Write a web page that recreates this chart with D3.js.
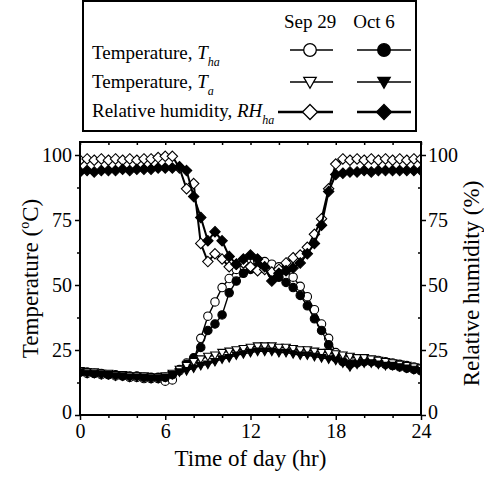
<!DOCTYPE html>
<html><head><meta charset="utf-8">
<script src="https://cdn.jsdelivr.net/npm/d3@7"></script>
<style>body{margin:0;background:#fff} svg{display:block}</style>
</head><body>
<script>
// Half-hourly readings over one day
const hours = [0,0.5,1,1.5,2,2.5,3,3.5,4,4.5,5,5.5,6,6.5,7,7.5,8,8.5,9,9.5,10,10.5,11,11.5,12,
  12.5,13,13.5,14,14.5,15,15.5,16,16.5,17,17.5,18,18.5,19,19.5,20,20.5,21,21.5,22,22.5,23,23.5,24];

// Temperature T_ha (°C)
const thaSep29 = [16.5,16,16,15.5,15.5,15,15,14.5,14.5,14,14,14,13,13.5,17,20,21,29.5,38,43.5,49,52.5,56,58.5,59.5,
  59.5,59,58,57,55.5,53,49.5,45.5,40.5,35,29.5,24,22.5,22,21.5,21.5,21,21,20.5,20,19.5,19,18.5,18];
const thaOct6 = [16.5,16.5,16,16,15.5,15.5,15,15,15,14.5,14.5,14.5,14.5,15.5,17.5,19.5,22,26,32.5,35,38.5,47,51.5,54.5,56,
  57,56.5,54.5,53,51,49,46,42,37,32.5,27,22,20.5,19.5,20,20.5,20.5,20,19.5,19,18.5,18,17.5,17];

// Temperature T_a (°C)
const taSep29 = [17,16.5,16.5,16,16,15.5,15.5,15,15,15,14.5,14.5,15,16,17.5,19,20.5,21.5,22.5,23,24,24.5,25,25.5,26,
  26.5,26.5,26.5,26,26,25.5,25,25,24.5,24,24,23.5,23,22.5,22,22,21.5,21,20.5,20,19.5,19,18.5,18];
const taOct6 = [16.5,16,16,15.5,15.5,15,15,14.5,14.5,14.5,14,14,14.5,15.5,16.5,17,18,19,19.5,20.5,21.5,22,23,23.5,24,
  24.5,24.5,24.5,24,24,23.5,23,23,22.5,22,21.5,21,20,18.5,19.5,20,20,19.5,19,19,18.5,18,17.5,17];

// Relative humidity RH_ha (%)
const rhSep29 = [98,98.5,98,98.5,98,98.5,98,98.5,98,98.5,98.5,99,99.5,99.5,95,87,89,66,59,62,60,57,58,58.5,57,
  55.5,56,55,56,58.5,60.5,61.5,64.5,69.5,75.5,87,96.5,98.5,98,98.5,98,98.5,98,98.5,98,98.5,98,98.5,98.5];
const rhOct6 = [93.5,94,93.5,94,94,94,94.5,94,94.5,94.5,94.5,95,95,95,95.5,94,84,76,67,70.5,67,61,58,60,61.5,
  60,57,51.5,54.5,55.5,56.5,58.5,62,66,73,86,92.5,93,93.5,93.5,94,93.5,94,94,94,94,94,94,94];

const xTicks = [0,6,12,18,24];
const yTicks = [0,25,50,75,100];
const xMinor = [2,4,8,10,14,16,20,22];
const yMinor = [12.5,37.5,62.5,87.5];

const FONT = '"Liberation Serif", "Times New Roman", serif';
const W = 484, H = 477;
const L = 80, R = 421, T = 142, B = 415;
const x = d3.scaleLinear().domain([0, 24]).range([L, R]);
const y = d3.scaleLinear().domain([0, 105]).range([B, T]);

const svg = d3.select("body").append("svg").attr("width", W).attr("height", H)
  .style("font-family", FONT);

// marker shapes
function markerPath(kind, s) {
  if (kind === "circle") return d3.symbol(d3.symbolCircle, Math.PI * s * s)();
  if (kind === "tri") return `M${-s},${-s * 0.75}L${s},${-s * 0.75}L0,${s * 1.0}Z`;
  if (kind === "diamond") return `M0,${-s}L${s},0L0,${s}L${-s},0Z`;
}

const series = [
  { v: thaSep29, kind: "circle", fill: "#fff", size: 4.2, lw: 1.4 },
  { v: thaOct6, kind: "circle", fill: "#000", size: 4.2, lw: 1.4 },
  { v: taSep29, kind: "tri", fill: "#fff", size: 4.3, lw: 1.4 },
  { v: taOct6, kind: "tri", fill: "#000", size: 4.3, lw: 1.4 },
  { v: rhSep29, kind: "diamond", fill: "#fff", size: 5.2, lw: 2 },
  { v: rhOct6, kind: "diamond", fill: "#000", size: 5.2, lw: 2 }
];

svg.append("defs").append("clipPath").attr("id", "plotclip")
  .append("rect").attr("x", L).attr("y", T).attr("width", R - L).attr("height", B - T);

const plot = svg.append("g").attr("clip-path", "url(#plotclip)");
const line = d3.line().x((d, i) => x(hours[i])).y(d => y(d));

series.forEach(s => {
  const g = plot.append("g");
  g.append("path").attr("d", line(s.v)).attr("fill", "none")
    .attr("stroke", "#000").attr("stroke-width", s.lw);
  g.selectAll("path.m").data(s.v).join("path").attr("class", "m")
    .attr("d", markerPath(s.kind, s.size))
    .attr("transform", (d, i) => `translate(${x(hours[i])},${y(d)})`)
    .attr("fill", s.fill).attr("stroke", "#000").attr("stroke-width", 1.1);
});

// axes
function styleAxis(g) {
  g.attr("font-family", null).style("font-family", FONT).attr("font-size", 20);
  g.select(".domain").remove();
  g.selectAll("line").attr("stroke", "#000").attr("stroke-width", 1.5);
  g.selectAll("text").attr("fill", "#000");
}

svg.append("g").attr("transform", `translate(0,${B})`)
  .call(d3.axisBottom(x).tickValues(xTicks).tickSize(5).tickPadding(4).tickFormat(d3.format("d")))
  .call(styleAxis);
svg.append("g").attr("transform", `translate(0,${B})`)
  .call(d3.axisBottom(x).tickValues(xMinor).tickSize(3).tickFormat(""))
  .call(styleAxis);
svg.append("g").attr("transform", `translate(0,${T})`)
  .call(d3.axisBottom(x).tickValues(xTicks.concat(xMinor)).tickSize(3).tickFormat(""))
  .call(styleAxis);

svg.append("g").attr("transform", `translate(${L},0)`)
  .call(d3.axisLeft(y).tickValues(yTicks).tickSize(5).tickPadding(3).tickFormat(d3.format("d")))
  .call(styleAxis)
  .selectAll(".tick text").filter(d => d === 0).attr("y", -3);
svg.append("g").attr("transform", `translate(${L},0)`)
  .call(d3.axisLeft(y).tickValues(yMinor).tickSize(3).tickFormat(""))
  .call(styleAxis);
svg.append("g").attr("transform", `translate(${R},0)`)
  .call(d3.axisRight(y).tickValues(yTicks).tickSize(5).tickPadding(2).tickFormat(d3.format("d")))
  .call(styleAxis)
  .selectAll(".tick text").filter(d => d === 0).attr("y", -3);
svg.append("g").attr("transform", `translate(${R},0)`)
  .call(d3.axisLeft(y).tickValues(yMinor).tickSize(3).tickFormat(""))
  .call(styleAxis);

// frame
svg.append("rect").attr("x", L).attr("y", T).attr("width", R - L).attr("height", B - T)
  .attr("fill", "none").attr("stroke", "#000").attr("stroke-width", 2);

// axis titles
svg.append("text").attr("x", (L + R) / 2).attr("y", 466).attr("text-anchor", "middle")
  .attr("font-size", 23).text("Time of day (hr)");
const lt = svg.append("text").attr("transform", `translate(38,${(T + B) / 2}) rotate(-90)`)
  .attr("text-anchor", "middle").attr("font-size", 23);
lt.append("tspan").text("Temperature (");
lt.append("tspan").attr("dy", -9).attr("font-size", 14).text("o");
lt.append("tspan").attr("dy", 9).text("C)");
svg.append("text").attr("transform", `translate(479,${(T + B) / 2 + 5}) rotate(-90)`)
  .attr("text-anchor", "middle").attr("font-size", 23).text("Relative humidity (%)");

// legend
const lg = svg.append("g");
lg.append("rect").attr("x", 83).attr("y", 1).attr("width", 333).attr("height", 130)
  .attr("fill", "#fff").attr("stroke", "#000").attr("stroke-width", 2);
const colSep = 310, colOct = 384;
lg.append("text").attr("x", colSep).attr("y", 28).attr("text-anchor", "middle").attr("font-size", 19).text("Sep 29");
lg.append("text").attr("x", colOct - 10).attr("y", 28).attr("text-anchor", "middle").attr("font-size", 19).text("Oct 6");

const rows = [
  { label: "Temperature, ", sym: "T", sub: "ha", kind: "circle", size: 6.3, cy: 50, base: 59, lw: 1.5, x0: 290 },
  { label: "Temperature, ", sym: "T", sub: "a", kind: "tri", size: 6.2, cy: 82, base: 88, lw: 1.5, x0: 290 },
  { label: "Relative humidity, ", sym: "RH", sub: "ha", kind: "diamond", size: 7.5, cy: 112, base: 117, lw: 2.5, x0: 278 }
];
rows.forEach(r => {
  const t = lg.append("text").attr("x", 92).attr("y", r.base).attr("font-size", 19);
  t.append("tspan").text(r.label);
  t.append("tspan").attr("font-style", "italic").text(r.sym);
  t.append("tspan").attr("dy", 7).attr("font-style", "italic").attr("font-size", 12).text(r.sub);
  [[colSep, "#fff", r.x0, 333], [colOct, "#000", 357, 411]].forEach(([cx, f, a, b]) => {
    lg.append("line").attr("x1", a).attr("x2", b).attr("y1", r.cy).attr("y2", r.cy)
      .attr("stroke", "#000").attr("stroke-width", r.lw);
    lg.append("path").attr("d", markerPath(r.kind, r.size)).attr("transform", `translate(${cx},${r.cy})`)
      .attr("fill", f).attr("stroke", "#000").attr("stroke-width", 1.3);
  });
});
</script>
</body></html>
